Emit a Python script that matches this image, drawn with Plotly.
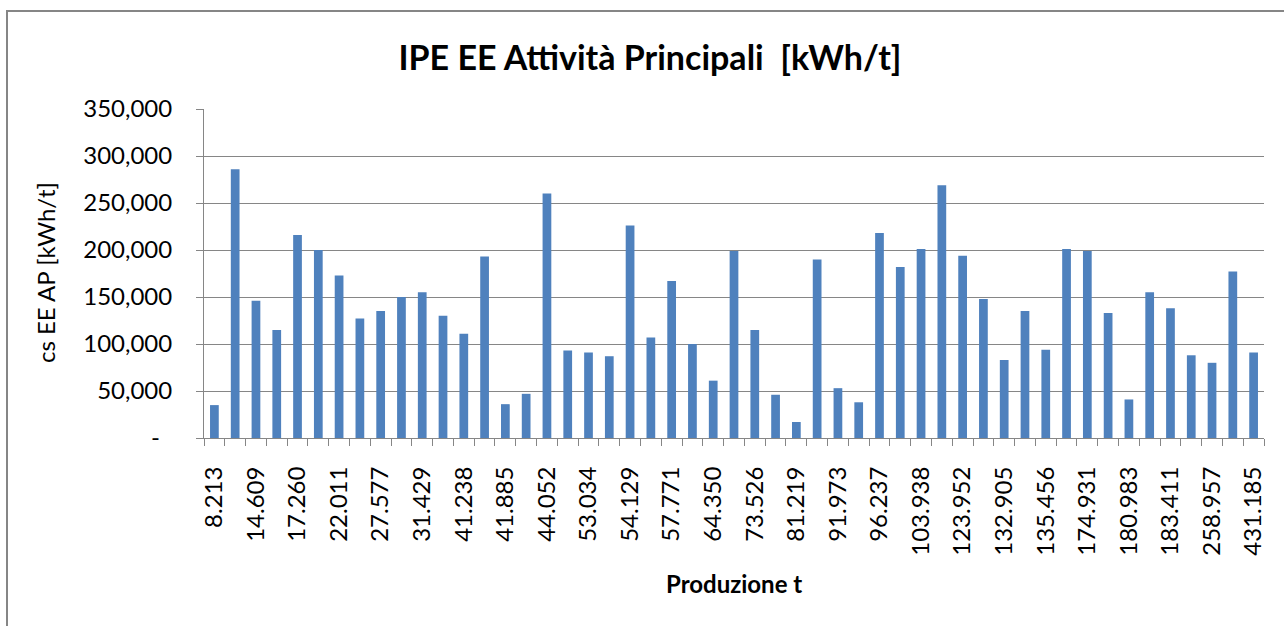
import plotly.graph_objects as go

# Data
tick_labels = ["8.213", "14.609", "17.260", "22.011", "27.577", "31.429", "41.238",
               "41.885", "44.052", "53.034", "54.129", "57.771", "64.350", "73.526",
               "81.219", "91.973", "96.237", "103.938", "123.952", "132.905",
               "135.456", "174.931", "180.983", "183.411", "258.957", "431.185"]
values = [35000, 286000, 146000, 115000, 216000, 200000, 173000, 127000, 135000, 150000,
          155000, 130000, 111000, 193000, 36000, 47000, 260000, 93000, 91000, 87000,
          226000, 107000, 167000, 100000, 61000, 199000, 115000, 46000, 17000, 190000,
          53000, 38000, 218000, 182000, 201000, 269000, 194000, 148000, 83000, 135000,
          94000, 201000, 199000, 133000, 41000, 155000, 138000, 88000, 80000, 177000,
          91000]
y_ticks = [0, 50000, 100000, 150000, 200000, 250000, 300000, 350000]
y_tick_text = ["-\u00a0\u00a0", "50,000", "100,000", "150,000", "200,000", "250,000", "300,000", "350,000"]

title_text = "IPE EE Attività Principali  [kWh/t]"
x_title = "Produzione t"
y_title = "cs EE AP [kWh/t]"

FONT = "Lato"
GRAY = "#868686"
W, H = 1284, 626
L, R, T, B = 204, 1264, 109, 438

x = list(range(len(values)))
tickvals = [2 * i for i in range(len(tick_labels))]

fig = go.Figure(go.Bar(x=x, y=values, marker=dict(color="#4F81BD", line=dict(width=0))))

def px_x(p):
    return (p - L) / (R - L)

def px_y(p):
    return (B - p) / (B - T)

fig.update_layout(
    width=W, height=H,
    margin=dict(l=L, r=W - R, t=T, b=H - B, pad=0),
    paper_bgcolor="white", plot_bgcolor="white",
    bargap=0.58,
    showlegend=False,
    font=dict(family=FONT, color="black", size=24),
    title=dict(text="<b>" + title_text + "</b>", x=650 / W, xref="container", xanchor="center",
               y=1 - 58 / H, yref="container", yanchor="middle",
               font=dict(family=FONT, size=34, color="black")),
    xaxis=dict(range=[-0.5, len(values) - 0.5], tickmode="array", tickvals=tickvals,
               ticktext=tick_labels, tickangle=-90, ticks="", showgrid=False,
               showline=True, linecolor=GRAY, linewidth=1, zeroline=False,
               ticklabelstandoff=18, tickfont=dict(size=24, family=FONT),
               minor=dict(tickmode="array", tickvals=[i - 0.5 for i in range(len(values) + 1)],
                          ticks="outside", ticklen=7, tickcolor=GRAY, tickwidth=1, showgrid=False)),
    yaxis=dict(range=[0, 350000], tickmode="array", tickvals=y_ticks, ticktext=y_tick_text,
               ticks="outside", ticklen=7, tickcolor=GRAY, showgrid=True, gridcolor=GRAY,
               gridwidth=1, showline=True, linecolor=GRAY, linewidth=1, zeroline=False,
               ticklabelstandoff=19, tickfont=dict(size=24, family=FONT)),
    annotations=[
        dict(text="<b>" + x_title + "</b>", xref="paper", yref="paper", x=px_x(734), y=px_y(583),
             xanchor="center", yanchor="middle", showarrow=False,
             font=dict(family=FONT, size=24, color="black")),
        dict(text=y_title, xref="paper", yref="paper", x=px_x(45), y=px_y(273),
             xanchor="center", yanchor="middle", showarrow=False, textangle=-90,
             font=dict(family=FONT, size=24, color="black")),
    ],
    shapes=[dict(type="rect", xref="paper", yref="paper", x0=px_x(7), x1=px_x(1300),
                 y0=px_y(660), y1=px_y(11), line=dict(color=GRAY, width=2), layer="below")],
)

fig.write_html("out.html", config={"displayModeBar": False},
               post_script="document.body.style.margin='0';document.body.style.overflow='hidden';")
